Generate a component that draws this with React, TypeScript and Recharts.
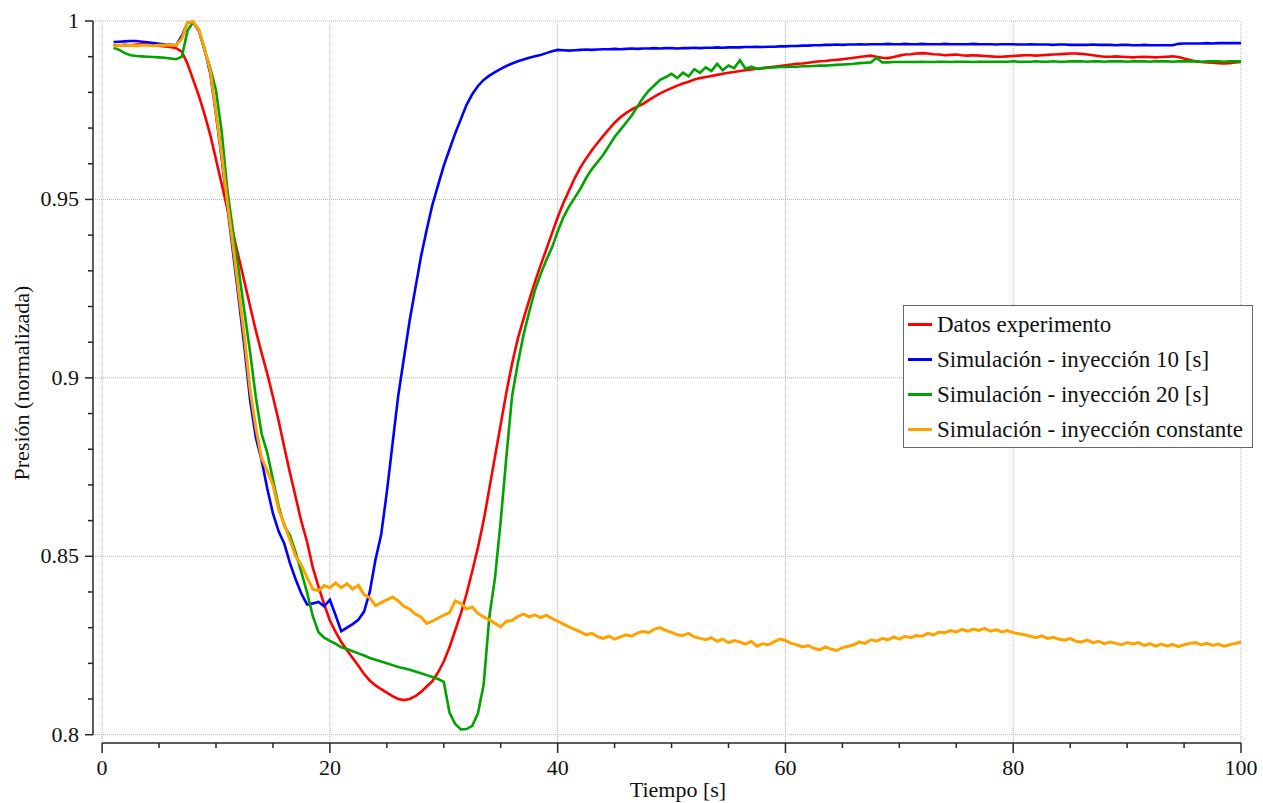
import { LineChart, Line, XAxis, YAxis, ReferenceLine, Legend, Label } from "recharts";

const tiempo = [
  1, 1.5, 2, 2.5, 3, 3.5, 4, 4.5, 5, 5.5,
  6, 6.5, 7, 7.5, 8, 8.5, 9, 9.5, 10, 10.5,
  11, 11.5, 12, 12.5, 13, 13.5, 14, 14.5, 15, 15.5,
  16, 16.5, 17, 17.5, 18, 18.5, 19, 19.5, 20, 20.5,
  21, 21.5, 22, 22.5, 23, 23.5, 24, 24.5, 25, 25.5,
  26, 26.5, 27, 27.5, 28, 28.5, 29, 29.5, 30, 30.5,
  31, 31.5, 32, 32.5, 33, 33.5, 34, 34.5, 35, 35.5,
  36, 36.5, 37, 37.5, 38, 38.5, 39, 39.5, 40, 40.5,
  41, 41.5, 42, 42.5, 43, 43.5, 44, 44.5, 45, 45.5,
  46, 46.5, 47, 47.5, 48, 48.5, 49, 49.5, 50, 50.5,
  51, 51.5, 52, 52.5, 53, 53.5, 54, 54.5, 55, 55.5,
  56, 56.5, 57, 57.5, 58, 58.5, 59, 59.5, 60, 60.5,
  61, 61.5, 62, 62.5, 63, 63.5, 64, 64.5, 65, 65.5,
  66, 66.5, 67, 67.5, 68, 68.5, 69, 69.5, 70, 70.5,
  71, 71.5, 72, 72.5, 73, 73.5, 74, 74.5, 75, 75.5,
  76, 76.5, 77, 77.5, 78, 78.5, 79, 79.5, 80, 80.5,
  81, 81.5, 82, 82.5, 83, 83.5, 84, 84.5, 85, 85.5,
  86, 86.5, 87, 87.5, 88, 88.5, 89, 89.5, 90, 90.5,
  91, 91.5, 92, 92.5, 93, 93.5, 94, 94.5, 95, 95.5,
  96, 96.5, 97, 97.5, 98, 98.5, 99, 99.5, 100,
];

// Datos experimento
const datosExperimento = [
  0.9932, 0.9932, 0.9933, 0.9932, 0.9934, 0.9935, 0.9934, 0.9933, 0.9931, 0.9929,
  0.9927, 0.9924, 0.9914, 0.988, 0.9835, 0.979, 0.9738, 0.968, 0.9612, 0.9543,
  0.9473, 0.9405, 0.9337, 0.9269, 0.92, 0.9132, 0.907, 0.9012, 0.8947, 0.888,
  0.8805, 0.8733, 0.8665, 0.8597, 0.854, 0.8468, 0.8415, 0.8365, 0.832, 0.8288,
  0.826, 0.8237, 0.8215, 0.8193, 0.817, 0.8152, 0.8138, 0.8128, 0.8118, 0.8108,
  0.81, 0.8097, 0.81, 0.8108, 0.812, 0.8135, 0.815, 0.8175, 0.8205, 0.8245,
  0.8292, 0.834, 0.8395, 0.8458, 0.8525, 0.86, 0.869, 0.878, 0.887, 0.896,
  0.904, 0.911, 0.9165, 0.9218, 0.9268, 0.9315, 0.936, 0.9405, 0.945, 0.949,
  0.9525, 0.956, 0.959, 0.9615, 0.9638, 0.9658, 0.9678, 0.9697, 0.9715, 0.973,
  0.9742, 0.9752, 0.976, 0.9768, 0.9778, 0.9788, 0.9797, 0.9805, 0.9812, 0.9819,
  0.9825, 0.983, 0.9836, 0.984, 0.9843, 0.9846, 0.9849, 0.9852, 0.9855, 0.9857,
  0.986, 0.9862, 0.9864, 0.9866, 0.9868, 0.987, 0.9872, 0.9874, 0.9876, 0.9878,
  0.988, 0.9881, 0.9883, 0.9885, 0.9887, 0.9888, 0.989, 0.9891, 0.9893, 0.9895,
  0.9897, 0.9899, 0.9901, 0.9903, 0.99, 0.9897, 0.9896, 0.9899, 0.9903, 0.9906,
  0.9907, 0.9909, 0.991, 0.9909, 0.9907, 0.9906, 0.9904, 0.9905, 0.9906, 0.9904,
  0.9903, 0.9904, 0.9903, 0.9902, 0.9901, 0.99, 0.99, 0.9901, 0.9902, 0.9903,
  0.9904, 0.9904, 0.9903, 0.9904, 0.9905, 0.9906, 0.9907, 0.9908, 0.9909, 0.9909,
  0.9908, 0.9906, 0.9904, 0.9902, 0.99, 0.99, 0.9901, 0.99, 0.9899, 0.9898,
  0.9899, 0.99, 0.9899, 0.9898, 0.9899, 0.99, 0.9901, 0.9899, 0.9895, 0.9891,
  0.9887, 0.9885, 0.9884, 0.9883, 0.9882, 0.9881, 0.9882, 0.9884, 0.9885,
];

// Simulación - inyección 10 [s]
const simulacion10 = [
  0.9941, 0.9942, 0.9943, 0.9944, 0.9944, 0.9942, 0.994, 0.9938, 0.9936, 0.9934,
  0.9933, 0.9932, 0.9958, 0.9995, 0.9997, 0.9972, 0.992, 0.9852, 0.9738, 0.9615,
  0.948, 0.935, 0.922, 0.9085, 0.8936, 0.8832, 0.877, 0.869, 0.862, 0.857,
  0.8535, 0.848, 0.8435, 0.8395, 0.8365, 0.8368, 0.8372, 0.836, 0.8378, 0.8335,
  0.829, 0.83, 0.831, 0.8322, 0.8345, 0.84, 0.849, 0.856, 0.868, 0.8815,
  0.895, 0.9055, 0.916, 0.925, 0.934, 0.9415, 0.9485, 0.954, 0.9595, 0.964,
  0.9685, 0.9725, 0.9765, 0.9795, 0.9818, 0.9835, 0.9847, 0.9857, 0.9866, 0.9874,
  0.9881, 0.9887, 0.9892, 0.9897, 0.9901, 0.9905, 0.991, 0.9915, 0.9919, 0.9918,
  0.9917, 0.9918, 0.9919, 0.992, 0.9919, 0.992, 0.9921, 0.9921, 0.9922, 0.9921,
  0.9922, 0.9923, 0.9922, 0.9923, 0.9923, 0.9924, 0.9923, 0.9924, 0.9924, 0.9923,
  0.9924, 0.9924, 0.9925, 0.9924, 0.9925, 0.9925, 0.9926, 0.9925, 0.9926, 0.9926,
  0.9926, 0.9927, 0.9927, 0.9928, 0.9927, 0.9928, 0.9928, 0.9929, 0.9929, 0.993,
  0.993, 0.9931, 0.9931, 0.9932, 0.9932, 0.9933, 0.9933, 0.9934, 0.9933, 0.9934,
  0.9934, 0.9935, 0.9934, 0.9935, 0.9935, 0.9935, 0.9936, 0.9935, 0.9935, 0.9936,
  0.9935, 0.9935, 0.9936, 0.9935, 0.9935, 0.9935, 0.9936, 0.9935, 0.9935, 0.9935,
  0.9935, 0.9936, 0.9935, 0.9935, 0.9935, 0.9934, 0.9935, 0.9935, 0.9935, 0.9934,
  0.9934, 0.9935, 0.9934, 0.9934, 0.9934, 0.9933, 0.9934, 0.9934, 0.9933, 0.9933,
  0.9933, 0.9933, 0.9934, 0.9933, 0.9933, 0.9933, 0.9932, 0.9933, 0.9933, 0.9932,
  0.9932, 0.9933, 0.9932, 0.9932, 0.9932, 0.9932, 0.9932, 0.9936, 0.9937, 0.9937,
  0.9937, 0.9937, 0.9938, 0.9937, 0.9938, 0.9938, 0.9938, 0.9938, 0.9938,
];

// Simulación - inyección 20 [s]
const simulacion20 = [
  0.9925, 0.9919, 0.991, 0.9904, 0.9902, 0.9901, 0.99, 0.9899, 0.9898, 0.9897,
  0.9895, 0.9893, 0.99, 0.9973, 0.9997, 0.9975, 0.9918, 0.9868, 0.9805, 0.969,
  0.9525, 0.941, 0.93, 0.9185, 0.907, 0.8945, 0.8844, 0.879, 0.8715, 0.864,
  0.8585, 0.8558, 0.851, 0.8455, 0.8398, 0.8332, 0.8287, 0.8272, 0.8263, 0.8255,
  0.8245, 0.824, 0.8234, 0.8228, 0.8222, 0.8215, 0.821, 0.8205, 0.82, 0.8195,
  0.819, 0.8186, 0.8182, 0.8177, 0.8172, 0.8167, 0.8162, 0.8156, 0.8148, 0.8062,
  0.803, 0.8015, 0.8016, 0.8025, 0.806, 0.814, 0.833, 0.844, 0.86, 0.878,
  0.895, 0.904, 0.912, 0.9185, 0.9245, 0.929, 0.933, 0.9365, 0.941, 0.945,
  0.948, 0.9505, 0.953, 0.956, 0.9585, 0.9605, 0.9625, 0.965, 0.9675, 0.9695,
  0.9715, 0.9735, 0.976, 0.9785, 0.9805, 0.982, 0.9835, 0.9843, 0.9852, 0.984,
  0.9855, 0.9845, 0.9865, 0.9855, 0.987, 0.986, 0.988, 0.9862, 0.9875, 0.9868,
  0.989, 0.9866, 0.9872, 0.9866, 0.9868, 0.9869, 0.987, 0.9871, 0.9871, 0.9872,
  0.9872, 0.9873, 0.9873, 0.9874, 0.9875, 0.9875, 0.9876, 0.9877, 0.9878, 0.9879,
  0.988, 0.9882, 0.9883, 0.9884, 0.9897, 0.9884, 0.9884, 0.9885, 0.9885, 0.9885,
  0.9885, 0.9885, 0.9886, 0.9885, 0.9885, 0.9886, 0.9886, 0.9885, 0.9886, 0.9886,
  0.9886, 0.9885, 0.9886, 0.9886, 0.9886, 0.9886, 0.9886, 0.9886, 0.9887, 0.9886,
  0.9886, 0.9886, 0.9887, 0.9886, 0.9886, 0.9887, 0.9886, 0.9886, 0.9887, 0.9887,
  0.9887, 0.9886, 0.9887, 0.9887, 0.9886, 0.9887, 0.9887, 0.9887, 0.9886, 0.9887,
  0.9887, 0.9887, 0.9886, 0.9887, 0.9887, 0.9887, 0.9886, 0.9887, 0.9887, 0.9887,
  0.9887, 0.9886, 0.9887, 0.9887, 0.9887, 0.9886, 0.9887, 0.9887, 0.9887,
];

// Simulación - inyección constante
const simulacionConstante = [
  0.993, 0.9931, 0.9931, 0.9932, 0.9931, 0.9932, 0.9932, 0.9931, 0.9932, 0.9932,
  0.9932, 0.9932, 0.995, 0.9996, 0.9998, 0.9975, 0.9922, 0.986, 0.9745, 0.9625,
  0.949, 0.937, 0.924, 0.9115, 0.8966, 0.886, 0.8775, 0.874, 0.87, 0.863,
  0.859, 0.8545, 0.85, 0.8475, 0.844, 0.8408, 0.8404, 0.8418, 0.8412, 0.8425,
  0.8412, 0.8423, 0.8408, 0.8419, 0.8392, 0.8384, 0.8362, 0.837, 0.8378, 0.8386,
  0.8375, 0.836, 0.8352, 0.8338, 0.833, 0.8312, 0.8318, 0.8327, 0.8335, 0.8342,
  0.8375, 0.8368, 0.8352, 0.8358, 0.834, 0.833, 0.8322, 0.8312, 0.8302, 0.8318,
  0.832, 0.8332, 0.8338, 0.833, 0.8336, 0.8328, 0.8335, 0.8326, 0.8318, 0.831,
  0.8302, 0.8295, 0.8288, 0.828, 0.8284, 0.8275, 0.827, 0.8276, 0.8268, 0.8274,
  0.828, 0.8276, 0.8285, 0.829, 0.8286, 0.8296, 0.83, 0.8292, 0.8287, 0.828,
  0.8278, 0.8284, 0.8274, 0.827, 0.8266, 0.8272, 0.8262, 0.8268, 0.8258, 0.8264,
  0.826, 0.8254, 0.8262, 0.8248, 0.8255, 0.8252, 0.826, 0.8268, 0.8264, 0.8256,
  0.8252, 0.8246, 0.825, 0.8242, 0.8238, 0.8246, 0.824, 0.8236, 0.8244, 0.8248,
  0.8252, 0.826, 0.8256, 0.8266, 0.8262, 0.827, 0.8266, 0.8274, 0.8268, 0.8276,
  0.8272, 0.8278, 0.8276, 0.8284, 0.828, 0.8288, 0.8286, 0.8292, 0.8288, 0.8295,
  0.829, 0.8296, 0.8292, 0.8298, 0.829, 0.8294, 0.8288, 0.8292, 0.8286, 0.8283,
  0.828, 0.8276, 0.8272, 0.8277, 0.827, 0.8273, 0.8268, 0.8265, 0.827, 0.8262,
  0.826, 0.8265, 0.8258, 0.8262, 0.8255, 0.826, 0.8256, 0.8252, 0.8258, 0.8254,
  0.8258, 0.825, 0.8255, 0.8248, 0.8254, 0.8249, 0.8253, 0.8247, 0.8252, 0.8256,
  0.8258, 0.8252, 0.8256, 0.825, 0.8254, 0.8248, 0.8252, 0.8256, 0.826,
];

const xTicks = [0, 5, 10, 15, 20, 25, 30, 35, 40, 45, 50, 55, 60, 65, 70, 75, 80, 85, 90, 95, 100];
const yTicks = [
  0.8, 0.81, 0.82, 0.83, 0.84, 0.85, 0.86, 0.87, 0.88, 0.89, 0.9,
  0.91, 0.92, 0.93, 0.94, 0.95, 0.96, 0.97, 0.98, 0.99, 1,
];
const xGrid = [0, 20, 40, 60, 80, 100];
const yGrid = [0.8, 0.85, 0.9, 0.95, 1];

const series = [
  { key: "datos", name: "Datos experimento", color: "#ff0000", width: 2.6 },
  { key: "sim10", name: "Simulación - inyección 10 [s]", color: "#0000ff", width: 2.6 },
  { key: "sim20", name: "Simulación - inyección 20 [s]", color: "#00a300", width: 2.6 },
  { key: "simConst", name: "Simulación - inyección constante", color: "#ffa200", width: 3 },
];

const rows = tiempo.map((t, i) => ({
  t,
  datos: datosExperimento[i],
  sim10: simulacion10[i],
  sim20: simulacion20[i],
  simConst: simulacionConstante[i],
}));

const FONT = '"Liberation Serif", "Times New Roman", serif';
const AXIS = "#262626";
const GRID = "#b4b4b4";
// the axes sit a few px outside the data area, so the domains are padded a bit
const X_MIN = -0.8;
const Y_MIN = 0.79768;

function XTick({ x, y, payload }: any) {
  const v = payload.value;
  const major = v % 20 === 0;
  return (
    <g>
      <line x1={x} x2={x} y1={y} y2={y + (major ? 10 : 5)} stroke={AXIS} strokeWidth={1.5} />
      {major && (
        <text x={x} y={y + 32} textAnchor="middle" fontSize={22} fontFamily={FONT} fill="#111">
          {v}
        </text>
      )}
    </g>
  );
}

function YTick({ x, y, payload }: any) {
  const v = payload.value;
  const major = Math.abs(v * 20 - Math.round(v * 20)) < 1e-6;
  return (
    <g>
      <line x1={x - (major ? 8 : 5)} x2={x} y1={y} y2={y} stroke={AXIS} strokeWidth={1.5} />
      {major && (
        <text x={x - 14} y={y + 7} textAnchor="end" fontSize={22} fontFamily={FONT} fill="#111">
          {String(Math.round(v * 100) / 100)}
        </text>
      )}
    </g>
  );
}

function LegendBox({ payload }: any) {
  return (
    <div
      style={{
        width: 350,
        height: 143,
        boxSizing: "border-box",
        border: "1px solid #666",
        background: "#fff",
        paddingTop: 1,
        fontFamily: FONT,
        fontSize: 23,
        color: "#111",
      }}
    >
      {(payload || []).map((entry: any) => (
        <div key={entry.value} style={{ display: "flex", alignItems: "center", height: 35 }}>
          <div style={{ width: 24, height: 3, marginLeft: 4, marginRight: 5, background: entry.color }} />
          <span style={{ whiteSpace: "nowrap" }}>{entry.value}</span>
        </div>
      ))}
    </div>
  );
}

export default function App() {
  return (
    <div style={{ position: "absolute", left: 0, top: 0, width: 1263, height: 803, background: "#fff" }}>
      <LineChart width={1263} height={803} data={rows} margin={{ top: 21, right: 22, bottom: 0, left: 0 }}>
        <XAxis
          dataKey="t"
          type="number"
          domain={[X_MIN, 100]}
          ticks={xTicks}
          interval={0}
          height={60}
          tickSize={0}
          tickMargin={0}
          tickLine={false}
          axisLine={false}
          tick={XTick}
        >
          <Label
            content={() => (
              <text x={678} y={797} textAnchor="middle" fontSize={22} fontFamily={FONT} fill="#111">
                Tiempo [s]
              </text>
            )}
          />
        </XAxis>
        <YAxis
          type="number"
          domain={[Y_MIN, 1]}
          ticks={yTicks}
          interval={0}
          width={93}
          tickSize={0}
          tickMargin={0}
          tickLine={false}
          axisLine={false}
          tick={YTick}
        >
          <Label
            content={() => (
              <text
                x={29}
                y={383}
                transform="rotate(-90 29 383)"
                textAnchor="middle"
                fontSize={22}
                fontFamily={FONT}
                fill="#111"
              >
                Presión (normalizada)
              </text>
            )}
          />
        </YAxis>

        {xGrid.map((v) => (
          <ReferenceLine key={`gx-${v}`} x={v} stroke={GRID} strokeDasharray="1 1" strokeWidth={1} ifOverflow="visible" />
        ))}
        {yGrid.map((v) => (
          <ReferenceLine key={`gy-${v}`} y={v} stroke={GRID} strokeDasharray="1 1" strokeWidth={1} ifOverflow="visible" />
        ))}
        <ReferenceLine
          segment={[{ x: X_MIN, y: 0.8 }, { x: X_MIN, y: 1 }]}
          stroke={AXIS}
          strokeWidth={1.5}
          ifOverflow="visible"
        />
        <ReferenceLine
          segment={[{ x: 0, y: Y_MIN }, { x: 100, y: Y_MIN }]}
          stroke={AXIS}
          strokeWidth={1.5}
          ifOverflow="visible"
        />

        {series.map((s) => (
          <Line
            key={s.key}
            dataKey={s.key}
            name={s.name}
            type="linear"
            stroke={s.color}
            strokeWidth={s.width}
            dot={false}
            activeDot={false}
            isAnimationActive={false}
          />
        ))}

        <Legend
          layout="horizontal"
          verticalAlign="middle"
          align="center"
          wrapperStyle={{ left: 903, top: 305, width: 350 }}
          content={LegendBox}
        />
      </LineChart>
    </div>
  );
}
